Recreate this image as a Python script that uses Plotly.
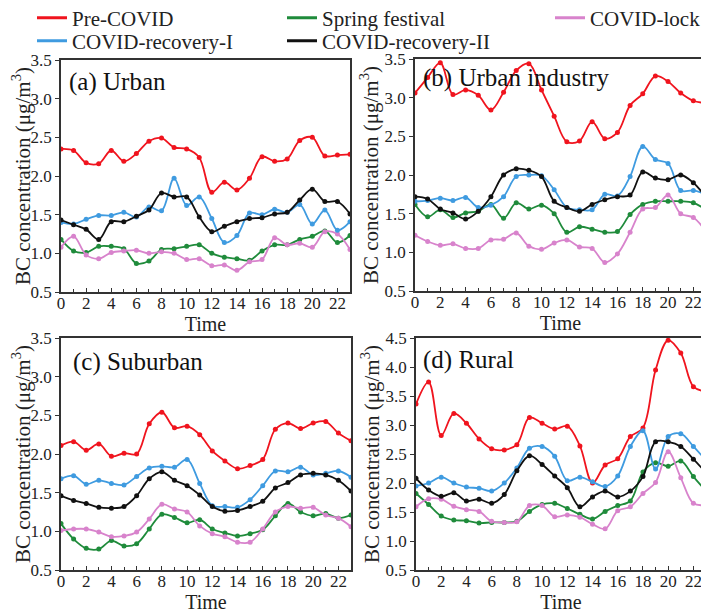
import plotly.graph_objects as go

hours = list(range(24))
series_names = ["Pre-COVID", "Spring festival", "COVID-lock", "COVID-recovery-I", "COVID-recovery-II"]
series_colors = ["#f0141e", "#1f8b3b", "#d883cc", "#3f9be0", "#111111"]

# (a) Urban
urban_pre = [2.35, 2.33, 2.17, 2.16, 2.33, 2.19, 2.29, 2.45, 2.49, 2.37, 2.35, 2.24, 1.79, 1.92, 1.82, 1.97, 2.25, 2.19, 2.22, 2.46, 2.50, 2.26, 2.27, 2.28]
urban_spring = [1.18, 1.03, 1.01, 1.09, 1.09, 1.06, 0.87, 0.90, 1.05, 1.06, 1.09, 1.11, 1.00, 0.95, 0.93, 0.91, 1.03, 1.11, 1.11, 1.18, 1.22, 1.29, 1.14, 1.23]
urban_lock = [1.08, 1.22, 0.98, 0.93, 1.01, 1.03, 1.04, 1.00, 1.02, 1.00, 0.92, 0.93, 0.84, 0.85, 0.78, 0.89, 0.92, 1.20, 1.11, 1.13, 1.08, 1.28, 1.25, 1.05]
urban_rec1 = [1.40, 1.38, 1.44, 1.49, 1.49, 1.53, 1.47, 1.60, 1.55, 1.97, 1.62, 1.73, 1.45, 1.14, 1.23, 1.52, 1.50, 1.57, 1.53, 1.63, 1.38, 1.56, 1.30, 1.41]
urban_rec2 = [1.43, 1.37, 1.31, 1.18, 1.41, 1.41, 1.48, 1.56, 1.78, 1.73, 1.73, 1.47, 1.28, 1.35, 1.41, 1.45, 1.46, 1.51, 1.53, 1.69, 1.83, 1.67, 1.67, 1.51]

# (b) Urban industry
ind_pre = [3.06, 3.26, 3.45, 3.04, 3.10, 3.03, 2.84, 3.07, 3.35, 3.44, 3.10, 2.76, 2.43, 2.44, 2.69, 2.47, 2.55, 2.90, 3.05, 3.28, 3.21, 3.06, 2.96, 2.93]
ind_spring = [1.62, 1.46, 1.55, 1.45, 1.51, 1.53, 1.62, 1.44, 1.64, 1.56, 1.61, 1.50, 1.26, 1.33, 1.30, 1.26, 1.27, 1.49, 1.62, 1.66, 1.66, 1.66, 1.64, 1.55]
ind_lock = [1.22, 1.14, 1.09, 1.11, 1.05, 1.05, 1.16, 1.17, 1.25, 1.08, 1.04, 1.12, 1.16, 1.07, 1.05, 0.87, 0.98, 1.26, 1.56, 1.58, 1.74, 1.50, 1.45, 1.27]
ind_rec1 = [1.66, 1.67, 1.70, 1.67, 1.71, 1.58, 1.61, 1.72, 1.98, 2.00, 1.99, 1.81, 1.58, 1.55, 1.55, 1.75, 1.73, 1.98, 2.37, 2.20, 2.15, 1.80, 1.80, 1.75]
ind_rec2 = [1.72, 1.69, 1.56, 1.51, 1.43, 1.53, 1.72, 2.00, 2.08, 2.06, 1.98, 1.66, 1.58, 1.53, 1.62, 1.68, 1.72, 1.74, 2.04, 1.96, 1.94, 2.00, 1.90, 1.71]

# (c) Suburban
sub_pre = [2.11, 2.16, 2.05, 2.13, 1.97, 2.01, 2.00, 2.39, 2.54, 2.34, 2.36, 2.25, 2.04, 1.91, 1.81, 1.85, 1.93, 2.32, 2.40, 2.33, 2.40, 2.42, 2.27, 2.17]
sub_spring = [1.10, 0.90, 0.78, 0.77, 0.88, 0.81, 0.84, 1.03, 1.22, 1.18, 1.11, 1.15, 1.03, 0.98, 0.94, 0.97, 1.02, 1.20, 1.36, 1.25, 1.20, 1.23, 1.17, 1.21]
sub_lock = [1.01, 1.03, 1.03, 0.99, 0.93, 0.94, 0.99, 1.16, 1.35, 1.29, 1.25, 1.07, 0.97, 0.93, 0.86, 0.86, 1.03, 1.25, 1.32, 1.30, 1.31, 1.21, 1.17, 1.06]
sub_rec1 = [1.68, 1.72, 1.61, 1.66, 1.62, 1.60, 1.71, 1.82, 1.84, 1.83, 1.93, 1.62, 1.33, 1.32, 1.31, 1.41, 1.59, 1.78, 1.77, 1.83, 1.73, 1.75, 1.78, 1.70]
sub_rec2 = [1.46, 1.40, 1.36, 1.31, 1.30, 1.32, 1.46, 1.68, 1.77, 1.66, 1.59, 1.47, 1.32, 1.26, 1.27, 1.32, 1.39, 1.56, 1.63, 1.73, 1.75, 1.73, 1.66, 1.52]

# (d) Rural
rur_pre = [3.36, 3.74, 2.82, 3.20, 3.03, 2.76, 2.59, 2.57, 2.66, 3.13, 3.03, 2.93, 2.98, 2.64, 2.00, 2.31, 2.42, 2.80, 2.95, 3.95, 4.46, 4.24, 3.66, 3.58]
rur_spring = [1.82, 1.63, 1.43, 1.36, 1.35, 1.31, 1.32, 1.32, 1.34, 1.51, 1.63, 1.65, 1.56, 1.46, 1.38, 1.51, 1.61, 1.69, 2.19, 2.35, 2.29, 2.38, 2.11, 1.86]
rur_lock = [1.59, 1.73, 1.72, 1.60, 1.54, 1.51, 1.34, 1.32, 1.33, 1.61, 1.61, 1.42, 1.45, 1.41, 1.29, 1.21, 1.52, 1.59, 1.82, 2.01, 2.54, 2.09, 1.65, 1.62]
rur_rec1 = [1.95, 2.00, 2.10, 2.00, 1.93, 1.91, 1.86, 2.00, 2.26, 2.60, 2.63, 2.46, 2.04, 2.10, 2.02, 1.94, 2.12, 2.63, 2.90, 2.24, 2.80, 2.85, 2.63, 2.39]
rur_rec2 = [2.08, 1.88, 1.77, 1.83, 1.69, 1.72, 1.65, 1.80, 2.21, 2.47, 2.32, 2.12, 1.92, 1.59, 1.76, 1.86, 1.76, 1.86, 2.11, 2.71, 2.71, 2.63, 2.41, 2.18]

panel_titles = ["(a) Urban", "(b) Urban industry", "(c) Suburban", "(d) Rural"]
panel_data = [
    [urban_pre, urban_spring, urban_lock, urban_rec1, urban_rec2],
    [ind_pre, ind_spring, ind_lock, ind_rec1, ind_rec2],
    [sub_pre, sub_spring, sub_lock, sub_rec1, sub_rec2],
    [rur_pre, rur_spring, rur_lock, rur_rec1, rur_rec2],
]
y_ranges = [[0.5, 3.5], [0.5, 3.5], [0.5, 3.5], [0.5, 4.5]]
x_ticks = list(range(0, 23, 2))

W, H = 709, 612
OFF = 8  # page body margin offset
FONT = "Liberation Serif"
# panel boxes in page pixels: (left, right, top, bottom)
boxes = [(61, 350, 60, 292), (415, 706, 59, 291), (61, 351, 338, 570), (416, 706, 338, 570)]
label_pos = [(67, 82), (421, 78), (71, 362), (421, 360)]
# legend entries: text start x and row centre y (page pixels)
legend_pos = [(73, 18), (323, 18), (591, 18), (73, 41), (323, 41)]


def fx(px):
    return (px - OFF) / W


def fy(py):
    return 1 - (py - OFF) / H


fig = go.Figure()
layout = dict(
    width=W, height=H, margin=dict(l=0, r=0, t=0, b=0, autoexpand=False),
    paper_bgcolor="white", plot_bgcolor="white",
    font=dict(family=FONT, color="#222222"),
    showlegend=True,
)
annotations = []
for i in range(4):
    xa = "x" if i == 0 else f"x{i+1}"
    ya = "y" if i == 0 else f"y{i+1}"
    for k in range(5):
        fig.add_trace(go.Scatter(
            x=hours, y=panel_data[i][k], mode="lines+markers",
            line=dict(color=series_colors[k], width=1.8, shape="spline", smoothing=1.0),
            marker=dict(color=series_colors[k], size=5),
            xaxis=xa, yaxis=ya, showlegend=False, hoverinfo="skip",
        ))
    l, r, t, b = boxes[i]
    layout["xaxis" if i == 0 else f"xaxis{i+1}"] = dict(
        domain=[fx(l), fx(r)], anchor=ya, range=[0, 23],
        tickvals=x_ticks, ticks="inside", ticklen=4, tickwidth=1.2, tickcolor="#333",
        minor=dict(ticks="inside", dtick=1, tick0=0, ticklen=3, tickcolor="#333", tickwidth=1.2),
        showline=True, linecolor="#333", linewidth=1.5, mirror=True,
        showgrid=False, zeroline=False, ticklabelstandoff=-5,
        tickfont=dict(family=FONT, size=17, color="#222"),
        title=dict(text="Time", font=dict(family=FONT, size=20, color="#222"), standoff=0),
    )
    layout["yaxis" if i == 0 else f"yaxis{i+1}"] = dict(
        domain=[fy(b), fy(t)], anchor=xa, range=y_ranges[i],
        dtick=0.5, tick0=0.5, tickformat=".1f", ticks="outside", ticklen=4, tickwidth=1.2, tickcolor="#333",
        showline=True, linecolor="#333", linewidth=1.5, mirror=True,
        showgrid=False, zeroline=False,
        tickfont=dict(family=FONT, size=17, color="#222"),
        title=dict(text="BC concentration (μg/m<sup>3</sup>)", font=dict(family=FONT, size=21, color="#222"), standoff=0),
    )
    lx, ly = label_pos[i]
    annotations.append(dict(text=panel_titles[i], x=fx(lx), y=fy(ly), xref="paper", yref="paper",
                            xanchor="left", yanchor="middle", showarrow=False,
                            font=dict(family=FONT, size=25, color="#111")))

# legend entries (lines only), each in its own legend box so that the
# two-row, three-column arrangement of the reference can be reproduced
for k in range(5):
    lname = "legend" if k == 0 else f"legend{k+1}"
    fig.add_trace(go.Scatter(
        x=[None], y=[None], mode="lines", name=series_names[k],
        line=dict(color=series_colors[k], width=3), legend=lname,
    ))
    tx, ty = legend_pos[k]
    layout[lname] = dict(orientation="v", xanchor="left", yanchor="middle",
                         x=fx(tx - 41), y=fy(ty), bgcolor="rgba(0,0,0,0)",
                         font=dict(family=FONT, size=21, color="#222"), itemwidth=30)
layout["annotations"] = annotations
fig.update_layout(**layout)
fig.write_html("out.html")
